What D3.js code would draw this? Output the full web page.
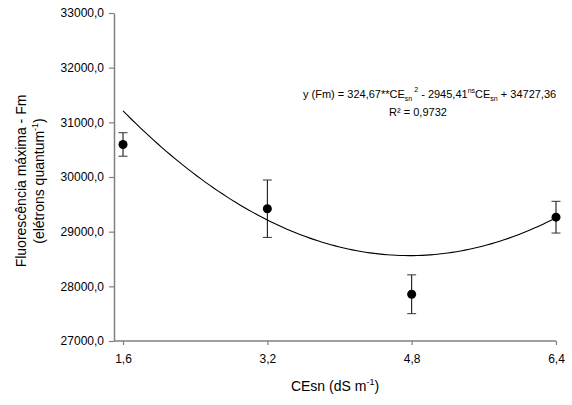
<!DOCTYPE html>
<html><head><meta charset="utf-8">
<script src="https://cdn.jsdelivr.net/npm/d3@7"></script>
<style>body{margin:0;background:#fff}svg{display:block}text{font-family:"Liberation Sans",Arial,sans-serif;fill:#000}</style>
</head><body><svg id="c" width="572" height="405"></svg>
<script>
const xValues = [1.6, 3.2, 4.8, 6.4];
const xTickLabels = ["1,6", "3,2", "4,8", "6,4"];
const fmMeans = [30595, 29420, 27855, 29265];
const fmErrors = [215, 525, 355, 290];
const yTicks = [27000, 28000, 29000, 30000, 31000, 32000, 33000];
// quadratic trend drawn in the figure (a*x^2 + b*x + c)
const trendCoef = [262.5, -2507.25, 34549];

const svg = d3.select("#c");
const x = d3.scaleLinear().domain([1.5, 6.4]).range([114, 556]);
const y = d3.scaleLinear().domain([27000, 33000]).range([341, 13]);
const fmt = v => d3.format(".1f")(v).replace(".", ",");

const yAxis = svg.append("g").attr("transform","translate(114,0)")
  .call(d3.axisLeft(y).tickValues(yTicks).tickSize(5).tickSizeOuter(0).tickPadding(5).tickFormat(fmt));
const xAxis = svg.append("g").attr("transform","translate(0,341)")
  .call(d3.axisBottom(x).tickValues(xValues).tickSize(4).tickSizeOuter(0).tickPadding(9).tickFormat((d,i)=>xTickLabels[i]));
[yAxis, xAxis].forEach(g => {
  g.selectAll("path").attr("stroke","#808080").attr("stroke-width",1.5);
  g.selectAll("line").attr("stroke","#808080").attr("stroke-width",1.2);
  g.selectAll("text").attr("font-size","12px").attr("font-family","'Liberation Sans',Arial,sans-serif").attr("fill","#000");
});
xAxis.select("path").attr("d", `M114,0H556`);

// trend line
const curveX = d3.range(0, 101).map(i => 1.6 + i * (6.4 - 1.6) / 100);
const line = d3.line().x(d => x(d)).y(d => y(trendCoef[0]*d*d + trendCoef[1]*d + trendCoef[2]));
svg.append("path").datum(curveX).attr("d", line).attr("fill","none").attr("stroke","#000").attr("stroke-width",1.1);

// error bars
const g = svg.append("g");
xValues.forEach((xv, i) => {
  const cx = x(xv), top = y(fmMeans[i] + fmErrors[i]), bot = y(fmMeans[i] - fmErrors[i]);
  g.append("line").attr("x1",cx).attr("x2",cx).attr("y1",top).attr("y2",bot).attr("stroke","#000").attr("stroke-width",1);
  [top, bot].forEach(yy => g.append("line").attr("x1",cx-4.5).attr("x2",cx+4.5).attr("y1",yy).attr("y2",yy).attr("stroke","#333").attr("stroke-width",1));
  g.append("circle").attr("cx",cx).attr("cy",y(fmMeans[i])).attr("r",4.5).attr("fill","#000");
});

// equation
const eq = svg.append("text").attr("x", 303).attr("y", 98).attr("font-size","11px");
eq.append("tspan").text("y (Fm) = 324,67**CE");
eq.append("tspan").attr("font-size","7px").attr("dy",3).text("sn");
eq.append("tspan").attr("font-size","7px").attr("dy",-9).attr("dx",2).text("2");
eq.append("tspan").attr("dy",6).text(" - 2945,41");
eq.append("tspan").attr("font-size","7px").attr("dy",-5).text("ns");
eq.append("tspan").attr("dy",5).text("CE");
eq.append("tspan").attr("font-size","7px").attr("dy",3).text("sn");
eq.append("tspan").attr("dy",-3).text(" + 34727,36");
svg.append("text").attr("x", 418).attr("y", 116).attr("text-anchor","middle").attr("font-size","11px").text("R² = 0,9732");

// axis titles
const yt = svg.append("text").attr("transform","translate(25.5,181) rotate(-90)").attr("text-anchor","middle").attr("font-size","14px");
yt.text("Fluorescência máxima - Fm");
const yt2 = svg.append("text").attr("transform","translate(44,181) rotate(-90)").attr("text-anchor","middle").attr("font-size","14px");
yt2.append("tspan").text("(elétrons quantum");
yt2.append("tspan").attr("font-size","9px").attr("dy",-6).text("-1");
yt2.append("tspan").attr("dy",6).text(")");

const xt = svg.append("text").attr("x", 335).attr("y", 391).attr("text-anchor","middle").attr("font-size","14px");
xt.append("tspan").text("CEsn (dS m");
xt.append("tspan").attr("font-size","9px").attr("dy",-6).text("-1");
xt.append("tspan").attr("dy",6).text(")");
</script></body></html>
